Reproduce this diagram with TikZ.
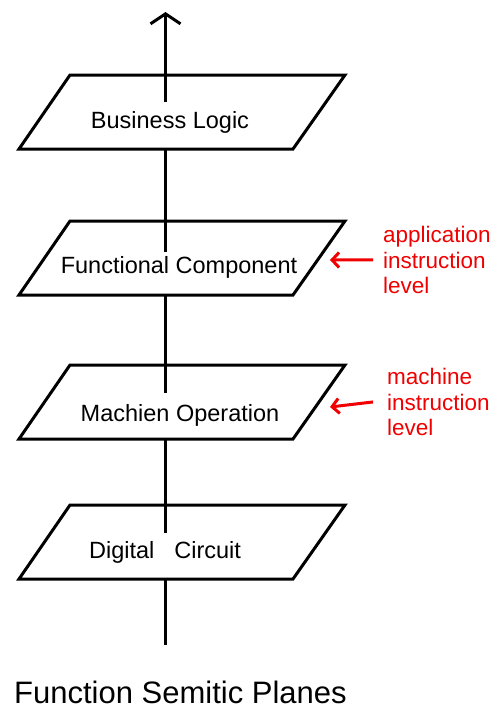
\documentclass[tikz,border=0pt]{standalone}
\usepackage{fontspec}
\setmainfont{Liberation Sans}
\usetikzlibrary{arrows.meta}
\definecolor{annot}{RGB}{240,0,0}
\begin{document}
\begin{tikzpicture}[x=1pt,y=-1pt,
  plane/.style={draw=black,line width=3pt,line join=miter},
  axis/.style={draw=black,line width=3pt},
  lbl/.style={font=\fontsize{23.5}{28}\selectfont,anchor=base,inner sep=0pt},
  note/.style={text=annot,font=\fontsize{22.5}{25.5}\selectfont,align=left,anchor=north west,inner sep=0pt},
  pointer/.style={draw=annot,line width=3pt,-{Straight Barb[length=7pt,width=15pt]}},
  title/.style={font=\fontsize{31}{36}\selectfont,anchor=base west,inner sep=0pt}]
\useasboundingbox (0,0) rectangle (497,710);

% planes
\foreach \t in {75,221,365,505}{
  \draw[plane] (70,\t) -- (345,\t) -- (293,\t+74) -- (19,\t+74) -- cycle;
}

% labels
\node[lbl] (bl) at (170,128) {Business Logic};
\node[lbl] (fc) at (179,273) {Functional Component};
\node[lbl] (mo) at (180,421) {Machien Operation};
\node[lbl] (dc) at (165,558) {Digital\hspace{0.85em}Circuit};

% axis coordinates
\coordinate (top) at (165.5,12);
\coordinate (e1) at (165.5,102);
\coordinate (b1) at (165.5,149);
\coordinate (e2) at (165.5,252);
\coordinate (b2) at (165.5,295);
\coordinate (e3) at (165.5,393);
\coordinate (b3) at (165.5,439);
\coordinate (e4) at (165.5,533);
\coordinate (b4) at (165.5,579);
\coordinate (bot) at (165.5,645);

\draw[axis,-{Straight Barb[length=10pt,width=30pt]}] (e1) -- (top);
\draw[axis] (b1) -- (e2);
\draw[axis] (b2) -- (e3);
\draw[axis] (b3) -- (e4);
\draw[axis] (b4) -- (bot);

% annotations
\node[note] (n1) at (383,226) {application\\instruction\\level};
\node[note] (n2) at (387,368) {machine\\instruction\\level};
\coordinate (t1) at (330,260);
\coordinate (t2) at (330,407);
\draw[pointer] (n1.west -| 373,0) -- (t1);
\draw[pointer] (n2.west -| 373,0) -- (t2);

% title
\node[title] (ttl) at (14,703) {Function Semitic Planes};
\end{tikzpicture}
\end{document}
